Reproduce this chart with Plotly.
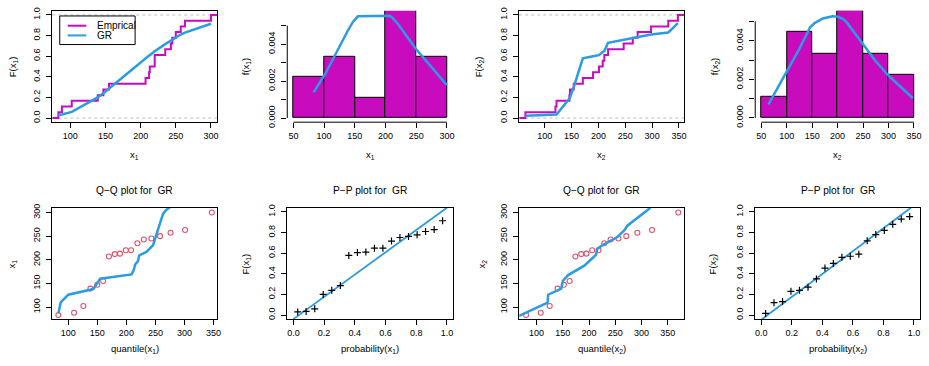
import plotly.graph_objects as go

# ---------------- data ----------------
x1_sorted = [83, 88, 102, 139, 147, 155, 207, 212, 213, 220, 220, 235, 243, 245, 250, 257, 263, 300]
x2_sorted = [64, 120, 122, 146, 147, 154, 171, 190, 201, 208, 211, 218, 247, 264, 273, 298, 330, 348]

# fitted GR cdf evaluated at sorted x1 (also the P-P ordinates)
gr_cdf_x1 = [0.03, 0.035, 0.06, 0.20, 0.24, 0.286, 0.578, 0.606, 0.61, 0.648, 0.648, 0.717, 0.752, 0.762, 0.778, 0.81, 0.829, 0.914]
# fitted GR cdf curve drawn in the x2 ecdf panel
gr_cdf_x2 = [0.022, 0.03, 0.035, 0.19, 0.20, 0.30, 0.58, 0.60, 0.61, 0.64, 0.65, 0.73, 0.76, 0.78, 0.79, 0.81, 0.83, 0.92]

# fitted GR density evaluated at sorted data
dens_x1 = [0.00140, 0.00165, 0.00240, 0.00475, 0.00520, 0.00550, 0.00553, 0.00540, 0.00535, 0.00510,
           0.00510, 0.00445, 0.00405, 0.00395, 0.00372, 0.00345, 0.00316, 0.00178]
dens_x2 = [0.00070, 0.00330, 0.00345, 0.00470, 0.00473, 0.00490, 0.00515, 0.00527, 0.00524, 0.00516,
           0.00512, 0.00495, 0.00395, 0.00335, 0.00300, 0.00225, 0.00145, 0.00102]

hist_bins_x1 = [50, 100, 150, 200, 250, 300]
hist_bins_x2 = [50, 100, 150, 200, 250, 300, 350]

# Q-Q plots
qq1_theo = [83, 110, 126, 138, 150, 160, 170, 180, 189, 199, 208, 219, 230, 243, 258, 276, 301, 347]
qq2_theo = [80, 108, 125, 140, 152, 163, 174, 185, 195, 206, 218, 229, 241, 256, 271, 292, 320, 370]
qq_emp = x1_sorted
qq1_line_x = [83, 87, 100, 143, 155, 209, 213, 215, 220, 222, 235, 246, 252, 263, 268, 276]
qq1_line_y = [86, 110, 126, 138, 160, 169, 179, 190, 197, 209, 217, 231, 255, 297, 305, 312]
qq2_line_x = [66.6, 121, 122, 147, 150, 160, 191, 213, 216, 226, 254, 267, 273, 317]
qq2_line_y = [81.4, 109, 126, 139, 155, 167.6, 187.6, 210, 224, 231, 248, 262, 272, 310]

# P-P plots
pp_prob = [0.028, 0.083, 0.139, 0.194, 0.250, 0.306, 0.361, 0.417, 0.472, 0.528, 0.583, 0.639,
           0.694, 0.750, 0.806, 0.861, 0.917, 0.972]
pp1_fit = gr_cdf_x1
pp2_fit = [0.016, 0.12, 0.13, 0.23, 0.24, 0.27, 0.35, 0.455, 0.50, 0.56, 0.57, 0.59, 0.72, 0.78,
           0.82, 0.88, 0.93, 0.955]
pp1_line_x = [0.0, 1.0]
pp1_line_y = [-0.04, 1.04]
pp2_line_x = [0.0, 0.98]
pp2_line_y = [-0.045, 1.04]

# tick labels
ticks_x1 = [100, 150, 200, 250, 300]
ticks_x2 = [100, 150, 200, 250, 300, 350]
ticks_prob = [0.0, 0.2, 0.4, 0.6, 0.8, 1.0]
ticks_hist1 = [50, 100, 150, 200, 250, 300]
ticks_hist2 = [50, 100, 150, 200, 250, 300, 350]
ticks_dens_major = [0.000, 0.002, 0.004]
ticks_dens_minor = [0.001, 0.003, 0.005]
ticks_qq_y = [100, 150, 200, 250, 300]
ticks_qq_x = [100, 150, 200, 250, 300, 350]

# ---------------- style ----------------
W, H = 929, 366
MAG = "#C90BBE"
BLUE = "#2B9BE3"
RED = "#DF536B"
FONT = "Liberation Sans, Arial, sans-serif"


def fx(p):
    return p / W


def fy(p):
    return 1 - p / H


cols = [(52.5, 218), (288.5, 455), (521.5, 687), (758.5, 924)]
rows = [(7, 121.5), (209.5, 324)]


def dom(col, row):
    (l, r), (t, b) = cols[col], rows[row]
    return [fx(l), fx(r)], [fy(b), fy(t)]


fig = go.Figure()


def ecdf_xy(data, rng):
    n = len(data)
    xs = [rng[0]] + list(data) + [rng[1]]
    ys = [0.0] + [(i + 1) / n for i in range(n)] + [1.0]
    return xs, ys


def hist_bars(data, bins):
    n = len(data)
    centers, heights = [], []
    for i in range(len(bins) - 1):
        lo, hi = bins[i], bins[i + 1]
        c = sum(1 for v in data if (lo < v <= hi) or (i == 0 and v == lo))
        centers.append((lo + hi) / 2)
        heights.append(c / (n * (hi - lo)))
    return centers, heights


rng = {
    1: ([74.3, 308.7], [-0.04, 1.04]),
    2: ([40, 310], [-0.00022, 0.0058]),
    3: ([52.6, 359.4], [-0.04, 1.04]),
    4: ([38, 362], [-0.00022, 0.00555]),
    5: ([72.5, 356], [74.3, 310]),
    6: ([-0.04, 1.04], [-0.04, 1.04]),
    7: ([67, 381], [74.3, 310]),
    8: ([-0.04, 1.04], [-0.04, 1.04]),
}


def ax(i):
    return ("x" if i == 1 else f"x{i}"), ("y" if i == 1 else f"y{i}")

# Panel 1: ECDF x1
ex, ey = ecdf_xy(x1_sorted, rng[1][0])
fig.add_trace(go.Scatter(x=ex, y=ey, mode="lines", line=dict(color=MAG, width=2, shape="hv"),
                         xaxis="x", yaxis="y"))
fig.add_trace(go.Scatter(x=x1_sorted, y=gr_cdf_x1, mode="lines", line=dict(color=BLUE, width=2.5),
                         xaxis="x", yaxis="y"))

# Panel 2: histogram x1
c, h = hist_bars(x1_sorted, hist_bins_x1)
fig.add_trace(go.Bar(x=c, y=h, width=50, marker=dict(color=MAG, line=dict(color="black", width=1)),
                     xaxis="x2", yaxis="y2"))
fig.add_trace(go.Scatter(x=x1_sorted, y=dens_x1, mode="lines", line=dict(color=BLUE, width=2.5),
                         xaxis="x2", yaxis="y2"))

# Panel 3: ECDF x2
ex, ey = ecdf_xy(x2_sorted, rng[3][0])
fig.add_trace(go.Scatter(x=ex, y=ey, mode="lines", line=dict(color=MAG, width=2, shape="hv"),
                         xaxis="x3", yaxis="y3"))
fig.add_trace(go.Scatter(x=x2_sorted, y=gr_cdf_x2, mode="lines", line=dict(color=BLUE, width=2.5),
                         xaxis="x3", yaxis="y3"))

# Panel 4: histogram x2
c, h = hist_bars(x2_sorted, hist_bins_x2)
fig.add_trace(go.Bar(x=c, y=h, width=50, marker=dict(color=MAG, line=dict(color="black", width=1)),
                     xaxis="x4", yaxis="y4"))
fig.add_trace(go.Scatter(x=x2_sorted, y=dens_x2, mode="lines", line=dict(color=BLUE, width=2.5),
                         xaxis="x4", yaxis="y4"))

# Panel 5: Q-Q x1
fig.add_trace(go.Scatter(x=qq1_theo, y=qq_emp, mode="markers",
                         marker=dict(symbol="circle-open", color=RED, size=5, line=dict(width=1.1)),
                         xaxis="x5", yaxis="y5"))
fig.add_trace(go.Scatter(x=qq1_line_x, y=qq1_line_y, mode="lines", line=dict(color=BLUE, width=2.5),
                         xaxis="x5", yaxis="y5"))

# Panel 6: P-P x1
fig.add_trace(go.Scatter(x=pp1_line_x, y=pp1_line_y, mode="lines", line=dict(color=BLUE, width=1.8),
                         xaxis="x6", yaxis="y6"))
fig.add_trace(go.Scatter(x=pp_prob, y=pp1_fit, mode="markers",
                         marker=dict(symbol="cross-thin", color="black", size=5, line=dict(width=1.2, color="black")),
                         xaxis="x6", yaxis="y6"))

# Panel 7: Q-Q x2
fig.add_trace(go.Scatter(x=qq2_theo, y=qq_emp, mode="markers",
                         marker=dict(symbol="circle-open", color=RED, size=5, line=dict(width=1.1)),
                         xaxis="x7", yaxis="y7"))
fig.add_trace(go.Scatter(x=qq2_line_x, y=qq2_line_y, mode="lines", line=dict(color=BLUE, width=2.5),
                         xaxis="x7", yaxis="y7"))

# Panel 8: P-P x2
fig.add_trace(go.Scatter(x=pp2_line_x, y=pp2_line_y, mode="lines", line=dict(color=BLUE, width=1.8),
                         xaxis="x8", yaxis="y8"))
fig.add_trace(go.Scatter(x=pp_prob, y=pp2_fit, mode="markers",
                         marker=dict(symbol="cross-thin", color="black", size=5, line=dict(width=1.2, color="black")),
                         xaxis="x8", yaxis="y8"))

layout = dict(
    width=W, height=H, margin=dict(l=0, r=0, t=0, b=0),
    paper_bgcolor="white", plot_bgcolor="white", showlegend=False, bargap=0,
    font=dict(family=FONT, size=9, color="black"),
)

prob_text = [f"{v:.1f}" for v in ticks_prob]
panel_ticks = {
    1: (ticks_x1, None, ticks_prob, prob_text),
    2: (ticks_hist1, None, ticks_dens_major, [f"{v:.3f}" for v in ticks_dens_major]),
    3: (ticks_x2, None, ticks_prob, prob_text),
    4: (ticks_hist2, None, ticks_dens_major, [f"{v:.3f}" for v in ticks_dens_major]),
    5: (ticks_qq_x, None, ticks_qq_y, None),
    6: (ticks_prob, prob_text, ticks_prob, prob_text),
    7: (ticks_qq_x, None, ticks_qq_y, None),
    8: (ticks_prob, prob_text, ticks_prob, prob_text),
}

shapes = []
for i in range(1, 9):
    col = (i - 1) % 4
    row = 0 if i <= 4 else 1
    xd, yd = dom(col, row)
    xn, yn = ax(i)
    boxed = i not in (2, 4)
    xt, xtt, yt, ytt = panel_ticks[i]
    common = dict(showgrid=False, zeroline=False, ticks="outside", ticklen=5, tickwidth=1,
                  tickcolor="black", linecolor="black", linewidth=1,
                  showline=boxed, mirror=boxed, tickfont=dict(size=9, family=FONT))
    xa = dict(common, domain=xd, range=rng[i][0], anchor=yn, tickmode="array", tickvals=xt)
    if xtt is not None:
        xa["ticktext"] = xtt
    ya = dict(common, domain=yd, range=rng[i][1], anchor=xn, tickmode="array", tickvals=yt,
              tickangle=-90, ticklabelstandoff=3)
    if ytt is not None:
        ya["ticktext"] = ytt
    if not boxed:
        ya["minor"] = dict(tickmode="array", tickvals=ticks_dens_minor, ticks="outside", ticklen=5,
                           tickwidth=1, tickcolor="black", showgrid=False)
    key = "" if i == 1 else str(i)
    layout["xaxis" + key] = xa
    layout["yaxis" + key] = ya
    if not boxed:
        shapes.append(dict(type="line", xref=xn, yref=f"{yn} domain", x0=xt[0], x1=xt[-1], y0=0, y1=0,
                           line=dict(color="black", width=1)))
        shapes.append(dict(type="line", xref=f"{xn} domain", yref=yn, x0=0, x1=0,
                           y0=ticks_dens_major[0], y1=ticks_dens_minor[-1],
                           line=dict(color="black", width=1)))

# dotted reference lines at 0 and 1 in ECDF panels
for xn, yn in [("x", "y"), ("x3", "y3")]:
    for lev in (0, 1):
        shapes.append(dict(type="line", xref=f"{xn} domain", yref=yn, x0=0, x1=1, y0=lev, y1=lev,
                           line=dict(color="#BEBEBE", width=1, dash="dot"), layer="below"))

# legend in panel 1
shapes.append(dict(type="rect", xref="paper", yref="paper", x0=fx(60), x1=fx(135.7), y0=fy(41.7), y1=fy(12.3),
                   line=dict(color="black", width=1), fillcolor="white"))
shapes.append(dict(type="line", xref="paper", yref="paper", x0=fx(68), x1=fx(86.7), y0=fy(22.3), y1=fy(22.3),
                   line=dict(color=MAG, width=2)))
shapes.append(dict(type="line", xref="paper", yref="paper", x0=fx(68), x1=fx(86.7), y0=fy(32.3), y1=fy(32.3),
                   line=dict(color=BLUE, width=2)))
layout["shapes"] = shapes

ann = []


def text(x, y, s, size=9, angle=0, xanchor="center"):
    ann.append(dict(x=fx(x), y=fy(y), xref="paper", yref="paper", text=s, showarrow=False,
                    textangle=angle, xanchor=xanchor, yanchor="middle",
                    font=dict(size=size, family=FONT, color="black")))

text(95, 22.3, "Emprical", size=10, xanchor="left")
text(95, 32.3, "GR", size=10, xanchor="left")

ylabels_top = [(13, "F(x<sub>1</sub>)"), (247, "f(x<sub>1</sub>)"), (481, "F(x<sub>2</sub>)"), (718, "f(x<sub>2</sub>)")]
ylabels_bot = [(12, "x<sub>1</sub>"), (247, "F(x<sub>1</sub>)"), (484, "x<sub>2</sub>"), (716, "F(x<sub>2</sub>)")]
for xpos, s in ylabels_top:
    text(xpos, 64, s, size=9.5, angle=-90)
for xpos, s in ylabels_bot:
    text(xpos, 266.8, s, size=9.5, angle=-90)

xlabels_top = ["x<sub>1</sub>", "x<sub>1</sub>", "x<sub>2</sub>", "x<sub>2</sub>"]
xlabels_bot = ["quantile(x<sub>1</sub>)", "probability(x<sub>1</sub>)", "quantile(x<sub>2</sub>)", "probability(x<sub>2</sub>)"]
titles = ["Q\u2212Q plot for  GR", "P\u2212P plot for  GR", "Q\u2212Q plot for  GR", "P\u2212P plot for  GR"]
for k in range(4):
    cx = (cols[k][0] + cols[k][1]) / 2
    text(cx, 155, xlabels_top[k], size=9.5)
    text(cx, 355, xlabels_bot[k], size=9.5)
    text(cx, 192, titles[k], size=10.2)

layout["annotations"] = ann
fig.update_layout(**layout)
fig.write_html("out.html")
